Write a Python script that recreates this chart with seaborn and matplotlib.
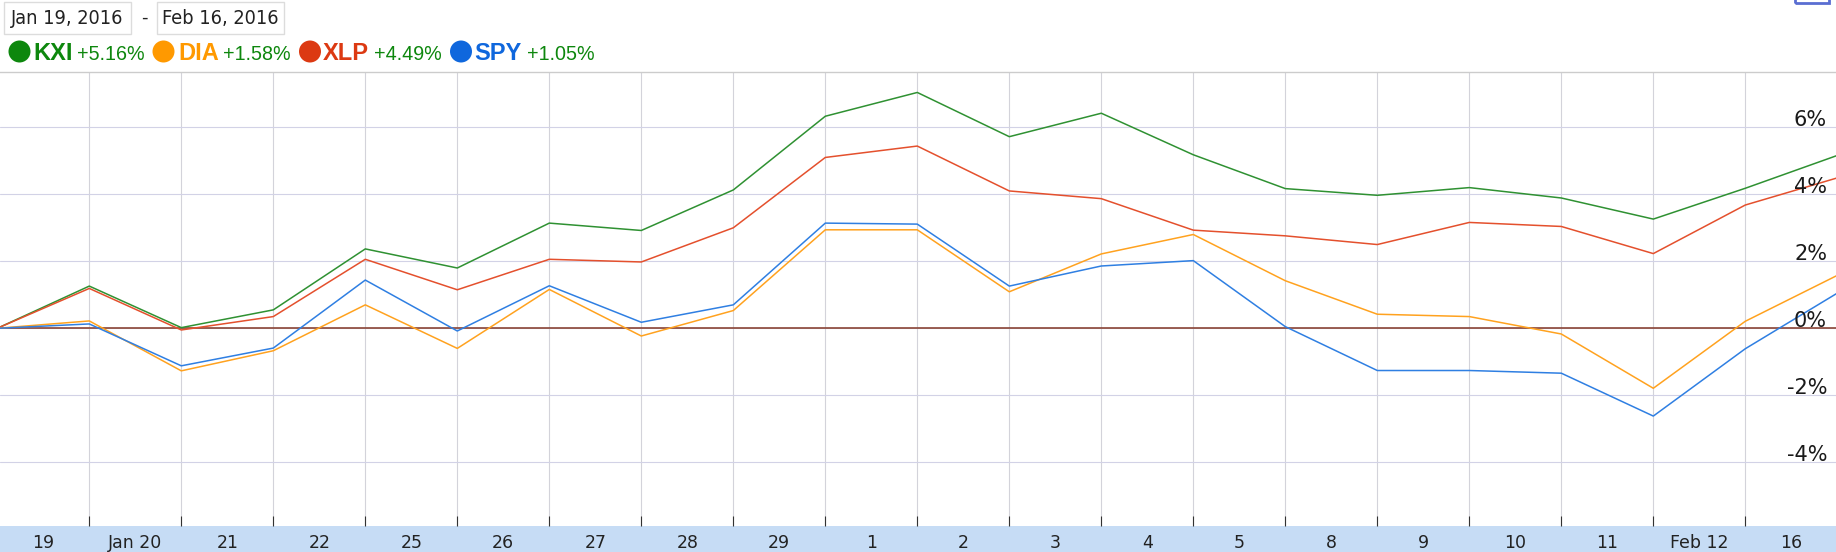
import numpy as np
import pandas as pd
import matplotlib
matplotlib.use('Agg')
import matplotlib.pyplot as plt
from matplotlib.patches import Rectangle, Ellipse
import seaborn as sns

# ------------------------------------------------------------
# data: % change since Jan 19, 2016 (one value per day boundary)
# ------------------------------------------------------------
day_labels = ['19', 'Jan 20', '21', '22', '25', '26', '27', '28', '29', '1',
              '2', '3', '4', '5', '8', '9', '10', '11', 'Feb 12', '16']
symbols = ['KXI', 'DIA', 'XLP', 'SPY']
final_change = ['+5.16%', '+1.58%', '+4.49%', '+1.05%']

kxi = [0, 1.26, 0.02, 0.55, 2.37, 1.80, 3.14, 2.92, 4.13, 6.33, 7.04,
       5.72, 6.42, 5.18, 4.17, 3.97, 4.20, 3.89, 3.26, 4.18, 5.16]
dia = [0, 0.22, -1.27, -0.67, 0.70, -0.60, 1.16, -0.23, 0.53, 2.94, 2.94,
       1.09, 2.22, 2.80, 1.42, 0.42, 0.35, -0.17, -1.79, 0.21, 1.58]
xlp = [0, 1.19, -0.05, 0.35, 2.06, 1.15, 2.06, 1.98, 3.00, 5.10, 5.44,
       4.10, 3.87, 2.93, 2.76, 2.50, 3.16, 3.04, 2.23, 3.68, 4.49]
spy = [0, 0.13, -1.12, -0.59, 1.44, -0.08, 1.27, 0.18, 0.70, 3.14, 3.11,
       1.26, 1.86, 2.02, 0.05, -1.26, -1.26, -1.34, -2.62, -0.61, 1.05]
y_ticks = [-4, -2, 0, 2, 4, 6]

series = {'KXI': kxi, 'DIA': dia, 'XLP': xlp, 'SPY': spy}
df = pd.concat([pd.DataFrame({'pos': np.arange(len(v)), 'pct': v, 'symbol': s})
                for s, v in series.items()], ignore_index=True)

line_colors = {'KXI': '#2f9132', 'DIA': '#ffa21f', 'XLP': '#e4502d', 'SPY': '#2f7fe2'}
label_colors = {'KXI': '#0d870d', 'DIA': '#ff9900', 'XLP': '#dc3912', 'SPY': '#0f67dd'}

# ------------------------------------------------------------
# figure
# ------------------------------------------------------------
sns.set_style('white')
plt.rcParams['font.family'] = ['DejaVu Sans']

W, H = 1836, 552
fig = plt.figure(figsize=(W / 100, H / 100), dpi=100)

def fx(x):
    return x / W

def fy(y):
    return 1 - y / H

top_px, bot_px = 72.3, 526
ax = fig.add_axes([0, fy(bot_px), 1, (bot_px - top_px) / H])

sns.lineplot(data=df, x='pos', y='pct', hue='symbol', palette=line_colors,
             hue_order=['KXI', 'XLP', 'DIA', 'SPY'], linewidth=1.1,
             legend=False, ax=ax, zorder=3)
ax.axhline(0, color='#8a4536', lw=1.2, zorder=2)

# 92 px per day, first gridline at 89 px
ax.set_xlim(2.7 / 92, (W + 2.7) / 92)
ax.set_ylim((328.3 - bot_px) / 33.5, (328.3 - top_px) / 33.5)

ax.set_xticks(np.arange(1, 20))
ax.set_xticklabels([])
ax.set_xticks(np.arange(len(day_labels)) + 0.5, minor=True)
ax.set_xticklabels(day_labels, minor=True, fontsize=12.5, color='#222222')
ax.tick_params(axis='x', which='major', direction='in', length=7.5,
               width=0.8, color='#333333', bottom=True)
ax.tick_params(axis='x', which='minor', length=0, pad=5.5)
ax.set_yticks(y_ticks)
ax.set_yticklabels([])
ax.tick_params(axis='y', length=0)
ax.grid(axis='x', color='#d3d3da', lw=0.8)
ax.grid(axis='y', color='#d2d2e6', lw=0.8)
ax.set_xlabel('')
ax.set_ylabel('')
for side in ['left', 'right', 'bottom']:
    ax.spines[side].set_visible(False)
ax.spines['top'].set_color('#cccccc')
ax.spines['top'].set_linewidth(1.0)

for v in y_ticks:
    ax.text(1 - 9 / W, v + 0.05, f'{v}%', transform=ax.get_yaxis_transform(),
            ha='right', va='baseline', fontsize=15, color='#1a1a1a', zorder=4)

# blue date band along the bottom
fig.add_artist(Rectangle((0, 0), 1, fy(bot_px), transform=fig.transFigure,
                         fc='#c6dcf5', ec='none', zorder=0))

# ------------------------------------------------------------
# header: date range boxes and legend
# ------------------------------------------------------------
for (x0, x1), txt in zip([(4, 131), (157, 284)], ['Jan 19, 2016', 'Feb 16, 2016']):
    fig.add_artist(Rectangle((fx(x0), fy(33.5)), fx(x1 - x0), 31 / H,
                             transform=fig.transFigure, fc='white',
                             ec='#dcdcdc', lw=1))
    fig.text(fx((x0 + x1) / 2), fy(24.5), txt, ha='center', va='baseline',
             fontsize=14.3, color='#222222', fontstretch='condensed')
fig.text(fx(144.5), fy(18), '-', ha='center', va='center', fontsize=13,
         color='#222222')

dot_x = [19.5, 163.5, 310, 461]
sym_x = [33, 178, 323, 474]
val_x = [77, 223, 374, 527]
for s, chg, cx, sx, vx in zip(symbols, final_change, dot_x, sym_x, val_x):
    fig.add_artist(Ellipse((fx(cx), fy(51.5)), 22 / W, 22 / H,
                           transform=fig.transFigure, fc=label_colors[s], ec='none'))
    fig.text(fx(sx), fy(60), s, ha='left', va='baseline', fontsize=17,
             fontweight='bold', color=label_colors[s], family=['Liberation Sans'])
    fig.text(fx(vx), fy(60.5), chg, ha='left', va='baseline', fontsize=14.2,
             color='#0d870d', family=['Liberation Sans'])

# small tab corner at the top right
fig.add_artist(Rectangle((fx(1795), fy(3)), fx(34), 20 / H,
                         transform=fig.transFigure, fc='none',
                         ec='#5a6ed2', lw=2))

fig.savefig('out.png', dpi=100)
